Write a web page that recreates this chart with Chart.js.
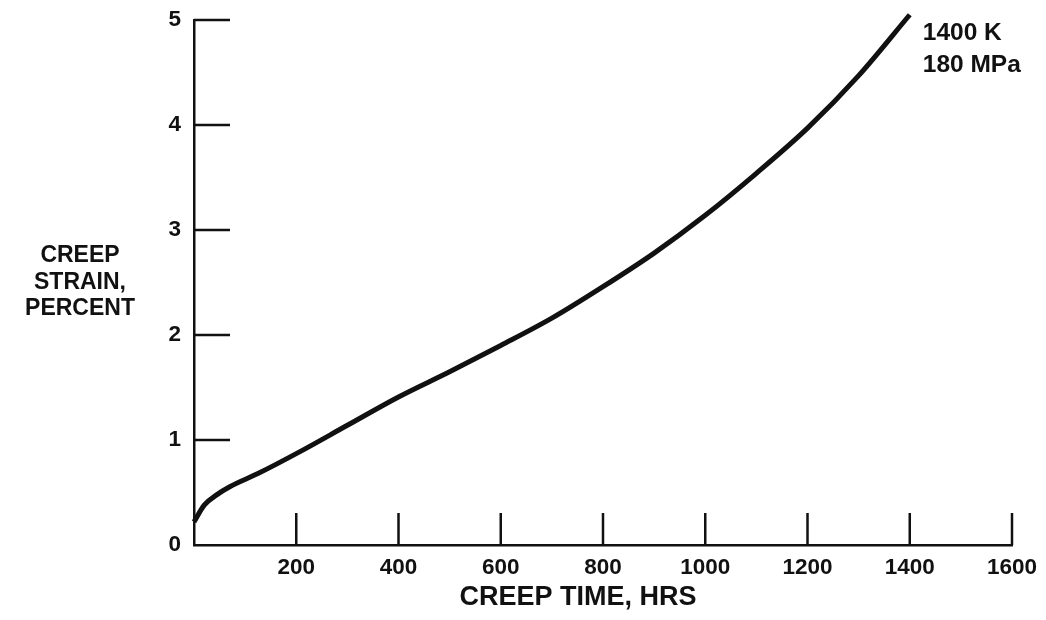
<!DOCTYPE html>
<html>
<head>
<meta charset="utf-8">
<script src="https://cdn.jsdelivr.net/npm/chart.js@4/dist/chart.umd.min.js"></script>
<style>
  html, body { margin: 0; padding: 0; background: #fff; }
  canvas { display: block; }
</style>
</head>
<body>
<canvas id="creepChart" width="1046" height="620"></canvas>
<script>
// values
const creepTime = [0, 20, 45, 70, 125, 200, 300, 400, 500, 600, 700, 800, 900, 1000, 1100, 1200, 1300, 1400];
const creepStrain = [0.22, 0.38, 0.48, 0.555, 0.68, 0.87, 1.14, 1.41, 1.65, 1.90, 2.16, 2.46, 2.78, 3.14, 3.54, 3.97, 4.47, 5.05];

const xTicks = [200, 400, 600, 800, 1000, 1200, 1400, 1600];
const yTicks = [1, 2, 3, 4, 5];
const yTitle = ['CREEP', 'STRAIN,', 'PERCENT'];
const xTitle = 'CREEP TIME, HRS';
const curveNote = ['1400 K', '180 MPa'];

const ink = '#111';
const fontFamily = '"Liberation Sans", Arial, Helvetica, sans-serif';

const points = creepTime.map((t, i) => ({x: t, y: creepStrain[i]}));

// inward tick marks, axis titles and the condition note
const decorations = {
    id: 'decorations',
    afterDraw(chart) {
        const ctx = chart.ctx;
        const xs = chart.scales.x;
        const ys = chart.scales.y;
        const area = chart.chartArea;
        ctx.save();
        ctx.strokeStyle = ink;
        ctx.lineWidth = 2.5;
        ctx.beginPath();
        yTicks.forEach(v => {
            const py = ys.getPixelForValue(v);
            ctx.moveTo(area.left, py);
            ctx.lineTo(area.left + 36, py);
        });
        xTicks.forEach(v => {
            const px = xs.getPixelForValue(v);
            ctx.moveTo(px, area.bottom);
            ctx.lineTo(px, area.bottom - 32);
        });
        ctx.stroke();

        ctx.fillStyle = ink;
        ctx.textAlign = 'center';
        ctx.textBaseline = 'middle';
        ctx.font = 'bold 23px ' + fontFamily;
        yTitle.forEach((line, i) => {
            ctx.fillText(line, 80, 256 + i * 26.5);
        });

        ctx.font = 'bold 27px ' + fontFamily;
        ctx.fillText(xTitle, 578, 598);

        ctx.textAlign = 'left';
        ctx.font = 'bold 24.5px ' + fontFamily;
        const noteX = xs.getPixelForValue(1400) + 13;
        curveNote.forEach((line, i) => {
            ctx.fillText(line, noteX, 33 + i * 32);
        });
        ctx.restore();
    }
};

new Chart(document.getElementById('creepChart').getContext('2d'), {
    type: 'scatter',
    data: {
        datasets: [{
            data: points,
            showLine: true,
            borderColor: ink,
            borderWidth: 5,
            pointRadius: 0,
            cubicInterpolationMode: 'monotone',
            clip: false
        }]
    },
    options: {
        responsive: false,
        animation: false,
        layout: { padding: { top: 20, right: 34, left: 0, bottom: 0 } },
        plugins: {
            legend: { display: false },
            tooltip: { enabled: false }
        },
        scales: {
            x: {
                type: 'linear',
                min: 0,
                max: 1600,
                afterFit(scale) {
                    scale.height = 75;
                    scale.paddingLeft = 0;
                    scale.paddingRight = 0;
                },
                grid: { display: true, drawOnChartArea: false, drawTicks: false },
                border: { display: true, color: ink, width: 2.5 },
                ticks: {
                    stepSize: 200,
                    padding: 9,
                    color: ink,
                    font: { family: fontFamily, size: 22.5, weight: 'bold' },
                    callback: v => (v === 0 ? '' : String(v))
                }
            },
            y: {
                min: 0,
                max: 5,
                afterFit(scale) {
                    scale.width = 194;
                    scale.paddingTop = 0;
                    scale.paddingBottom = 0;
                },
                grid: { display: true, drawOnChartArea: false, drawTicks: false },
                border: { display: true, color: ink, width: 2.5 },
                ticks: {
                    stepSize: 1,
                    padding: 13,
                    color: ink,
                    font: { family: fontFamily, size: 22.5, weight: 'bold' }
                }
            }
        }
    },
    plugins: [decorations]
});
</script>
</body>
</html>
